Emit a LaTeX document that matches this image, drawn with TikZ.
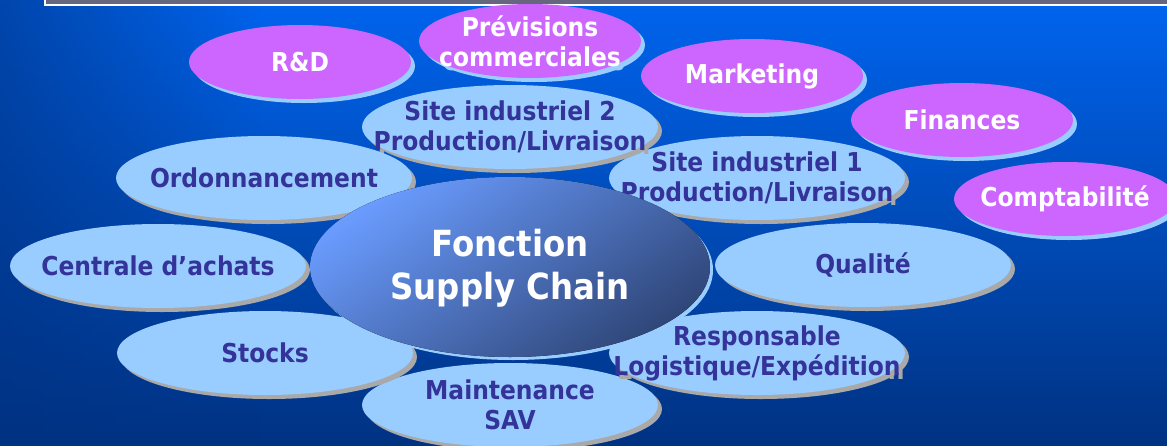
\documentclass[tikz,border=0pt]{standalone}
\usepackage{fontspec}
\setmainfont{DejaVu Sans}[FakeStretch=0.9]
\usetikzlibrary{shapes.geometric,fadings}

\definecolor{fondhaut}{HTML}{0064EE}
\definecolor{fondmilieu}{HTML}{004EC4}
\definecolor{fondbas}{HTML}{003282}
\definecolor{bandeau}{HTML}{66667F}
\definecolor{ciel}{HTML}{99CCFF}
\definecolor{encre}{HTML}{333399}
\definecolor{ombre}{HTML}{A9A9A9}
\definecolor{mauve}{HTML}{CC66FF}
\definecolor{centreclair}{HTML}{6A9CFF}
\definecolor{centrefonce}{HTML}{2F4678}

% bulle bleue : nom, x, y, texte
\newcommand{\bulle}[4]{%
  \fill[ombre] (#2+4,#3+4) ellipse [x radius=148pt, y radius=42pt];
  \node[etiquette, text=ombre] at (#2+4,#3+4) {#4};
  \fill[ciel] (#2,#3) ellipse [x radius=148pt, y radius=42pt];
  \node[etiquette] (#1) at (#2,#3) {#4};}

% bulle mauve : nom, x, y, texte
\newcommand{\service}[4]{%
  \fill[ciel] (#2+4,#3+4) ellipse [x radius=111pt, y radius=37pt];
  \node[etiquette, text=ciel] at (#2+4,#3+4) {#4};
  \fill[mauve] (#2,#3) ellipse [x radius=111pt, y radius=37pt];
  \node[etiquette, text=white] (#1) at (#2,#3) {#4};}

\begin{document}
\begin{tikzpicture}[x=1pt,y=-1pt]

\tikzstyle{etiquette}=[align=center,inner sep=0pt,text=encre,
  font=\bfseries\fontsize{26}{30}\selectfont]
\tikzstyle{titre}=[align=center,inner sep=0pt,text=white,
  font=\bfseries\fontsize{36}{43}\selectfont]

\useasboundingbox (0,0) rectangle (1167,445);

% fond
\fill[top color=fondhaut,middle color=fondmilieu,bottom color=fondbas]
  (0,0) rectangle (1167,445);
\fill[fondbas,path fading=east,fill opacity=0.6] (0,0) rectangle (260,445);
\fill[bandeau,draw=white,line width=1.5pt] (45,-10) rectangle (1175,5);

% services autour
\service{previsions}{530}{41}{Prévisions\\commerciales}
\service{rd}{300}{62}{R\&D}
\service{marketing}{752}{76}{Marketing}
\service{finances}{962}{120}{Finances}
\service{compta}{1065}{199}{Comptabilité}

% fonctions proches
\bulle{maintenance}{510}{405}{Maintenance\\SAV}
\bulle{qualite}{863}{265}{Qualité}
\bulle{site1}{757}{178}{Site industriel 1\\Production/Livraison}
\bulle{site2}{510}{127}{Site industriel 2\\Production/Livraison}
\bulle{ordo}{264}{178}{Ordonnancement}
\bulle{achats}{158}{266}{Centrale d’achats}
\bulle{stocks}{265}{353}{Stocks}
\bulle{logistique}{757}{353}{Responsable\\Logistique/Expédition}

% centre
\fill[ciel] (513,270) ellipse [x radius=200pt, y radius=90pt];
\fill[left color=centreclair,right color=centrefonce,shading angle=35]
  (510,267) ellipse [x radius=200pt, y radius=90pt];
\node[titre] (fonction) at (510,268) {Fonction\\Supply Chain};

\end{tikzpicture}
\end{document}
